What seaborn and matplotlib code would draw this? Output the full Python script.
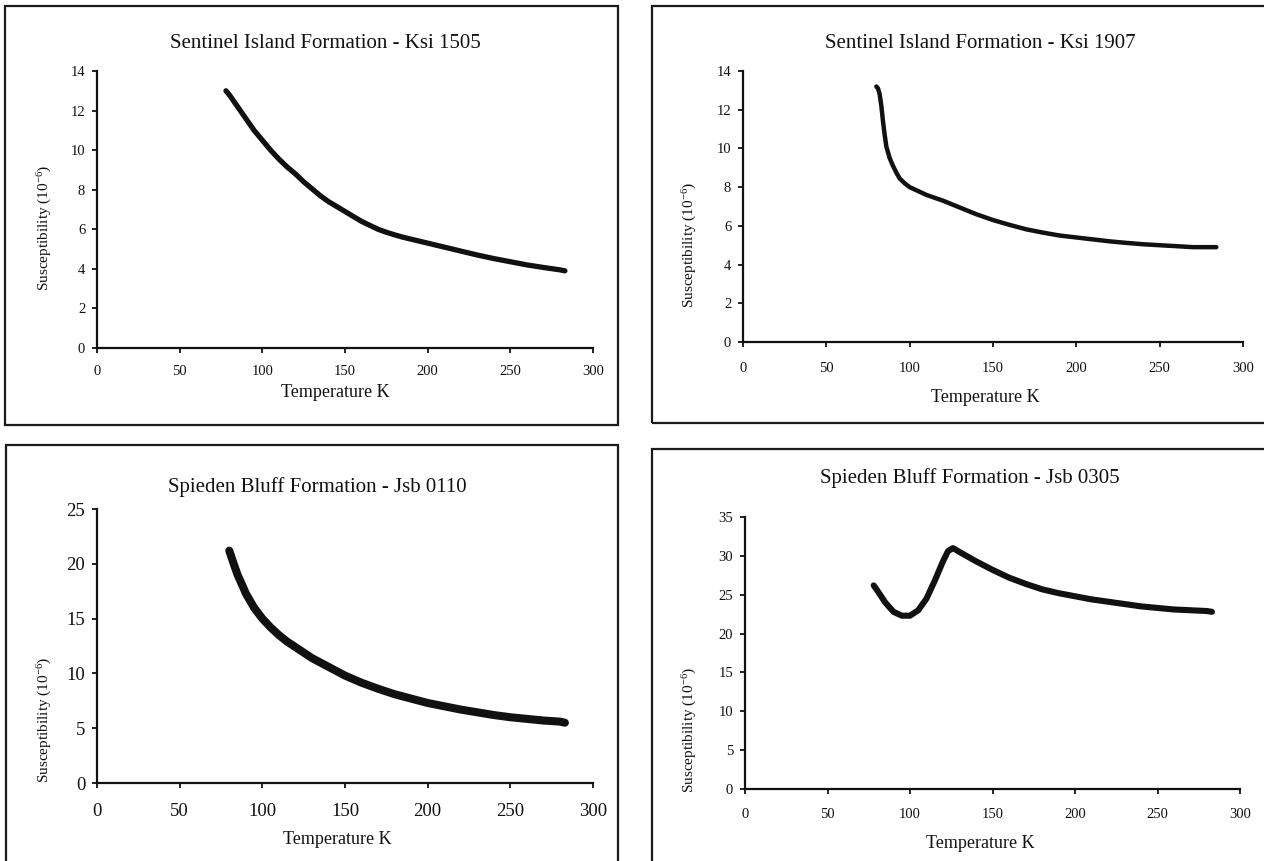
import matplotlib
matplotlib.use("Agg")
import matplotlib.pyplot as plt
import seaborn as sns
import pandas as pd
from matplotlib.patches import Rectangle

# ---------------- data ----------------
temp_1505 = [78, 80, 85, 90, 95, 100, 105, 110, 115, 120, 125, 130, 135, 140,
             145, 150, 155, 160, 165, 170, 175, 180, 185, 190, 195, 200, 210,
             220, 230, 240, 250, 260, 270, 280, 283]
chi_1505 = [13.0, 12.8, 12.2, 11.6, 11.0, 10.5, 10.0, 9.55, 9.15, 8.8, 8.4,
            8.05, 7.7, 7.4, 7.15, 6.9, 6.65, 6.4, 6.2, 6.0, 5.85, 5.72, 5.6,
            5.5, 5.4, 5.3, 5.1, 4.9, 4.7, 4.52, 4.36, 4.2, 4.07, 3.95, 3.9]

temp_1907 = [80, 81, 82, 83, 84, 85, 86, 88, 90, 92, 94, 97, 100, 105, 110,
             115, 120, 130, 140, 150, 160, 170, 180, 190, 200, 210, 220, 230,
             240, 250, 260, 270, 280, 284]
chi_1907 = [13.2, 13.1, 12.8, 12.2, 11.4, 10.7, 10.1, 9.5, 9.1, 8.75, 8.45,
            8.2, 8.0, 7.8, 7.6, 7.45, 7.3, 6.95, 6.6, 6.3, 6.05, 5.82, 5.65,
            5.5, 5.4, 5.3, 5.2, 5.12, 5.05, 5.0, 4.95, 4.9, 4.9, 4.9]

temp_0110 = [80, 82, 85, 88, 90, 95, 100, 105, 110, 115, 120, 125, 130, 140,
             150, 160, 170, 180, 190, 200, 210, 220, 230, 240, 250, 260, 270,
             280, 283]
chi_0110 = [21.2, 20.3, 19.0, 18.0, 17.3, 16.0, 15.0, 14.2, 13.5, 12.9, 12.4,
            11.9, 11.4, 10.6, 9.8, 9.15, 8.6, 8.1, 7.7, 7.3, 7.0, 6.7, 6.45,
            6.2, 6.0, 5.85, 5.7, 5.6, 5.5]

temp_0305 = [78, 80, 85, 90, 95, 100, 105, 110, 115, 120, 123, 126, 130, 135,
             140, 150, 160, 170, 180, 190, 200, 210, 220, 230, 240, 250, 260,
             270, 280, 283]
chi_0305 = [26.2, 25.6, 24.0, 22.8, 22.3, 22.3, 23.0, 24.5, 26.8, 29.3, 30.6,
            31.0, 30.5, 29.9, 29.3, 28.2, 27.2, 26.4, 25.7, 25.2, 24.8, 24.4,
            24.1, 23.8, 23.5, 23.3, 23.1, 23.0, 22.9, 22.8]

titles = ["Sentinel Island Formation - Ksi 1505",
          "Sentinel Island Formation - Ksi 1907",
          "Spieden Bluff Formation - Jsb 0110",
          "Spieden Bluff Formation - Jsb 0305"]
x_ticks = [0, 50, 100, 150, 200, 250, 300]
y_ticks_list = [[0, 2, 4, 6, 8, 10, 12, 14],
                [0, 2, 4, 6, 8, 10, 12, 14],
                [0, 5, 10, 15, 20, 25],
                [0, 5, 10, 15, 20, 25, 30, 35]]
x_label = "Temperature K"
y_label = "Susceptibility (10$^{-6}$)"

# ---------------- style ----------------
sns.set_style("ticks")
plt.rcParams["font.family"] = ["Liberation Serif", "DejaVu Serif"]
plt.rcParams["mathtext.fontset"] = "custom"
plt.rcParams["mathtext.rm"] = "Liberation Serif"
plt.rcParams["mathtext.it"] = "Liberation Serif:italic"

W, H = 1264, 861
fig = plt.figure(figsize=(W / 100, H / 100), dpi=100)
fig.patch.set_facecolor("white")


def fx(px):
    return px / W


def fy(py):
    return 1 - py / H


def add_box(x0, y0, x1, y1):
    fig.patches.append(Rectangle((fx(x0), fy(y1)), fx(x1) - fx(x0), fy(y0) - fy(y1),
                                 transform=fig.transFigure, fill=False,
                                 edgecolor="#1a1a1a", linewidth=1.6, zorder=0))


panels = [
    dict(ax=(97, 593, 71, 348), box=(5, 6, 618, 425), title=(325, 44),
         xl=(335, 392), yl=(45, 228), lw=3.8, tfs=10.5, xpad=9,
         data=(temp_1505, chi_1505), ylim=14),
    dict(ax=(743, 1243, 71, 342), box=(652, 6, 1275, 423), title=(980, 43),
         xl=(985, 398), yl=(690, 245), lw=3.2, tfs=10.5, xpad=11,
         data=(temp_1907, chi_1907), ylim=14),
    dict(ax=(97, 593, 509, 783), box=(6, 445, 618, 875), title=(317, 487),
         xl=(337, 840), yl=(45, 720), lw=5.8, tfs=13.5, xpad=11,
         data=(temp_0110, chi_0110), ylim=25),
    dict(ax=(745, 1240, 517, 789), box=(652, 449, 1275, 875), title=(970, 478),
         xl=(980, 843), yl=(690, 730), lw=4.4, tfs=10.5, xpad=10,
         data=(temp_0305, chi_0305), ylim=35),
]

for i, p in enumerate(panels):
    add_box(*p["box"])
    l, r, t, b = p["ax"]
    ax = fig.add_axes([fx(l), fy(b), fx(r) - fx(l), fy(t) - fy(b)])
    ax.set_facecolor("none")
    df = pd.DataFrame({"T": p["data"][0], "chi": p["data"][1]})
    sns.lineplot(data=df, x="T", y="chi", ax=ax, color="#111111",
                 linewidth=p["lw"], solid_capstyle="round", solid_joinstyle="round")
    ax.set_xlim(0, 300)
    ax.set_ylim(0, p["ylim"])
    ax.set_xticks(x_ticks)
    ax.set_yticks(y_ticks_list[i])
    sns.despine(ax=ax)
    for s in ("left", "bottom"):
        ax.spines[s].set_linewidth(1.6)
        ax.spines[s].set_color("#111111")
    ax.tick_params(axis="both", direction="out", length=3.5, width=1.3,
                   labelsize=p["tfs"], colors="#111111")
    ax.tick_params(axis="x", pad=p["xpad"])
    ax.tick_params(axis="y", pad=5)
    ax.set_xlabel("")
    ax.set_ylabel("")
    fig.text(fx(p["title"][0]), fy(p["title"][1]), titles[i], ha="center",
             va="center", fontsize=15, color="#111111")
    fig.text(fx(p["xl"][0]), fy(p["xl"][1]), x_label, ha="center", va="center",
             fontsize=13, color="#111111")
    fig.text(fx(p["yl"][0]), fy(p["yl"][1]), y_label, ha="center", va="center",
             rotation=90, fontsize=11, color="#111111")

fig.savefig("out.png", dpi=100, facecolor="white")
